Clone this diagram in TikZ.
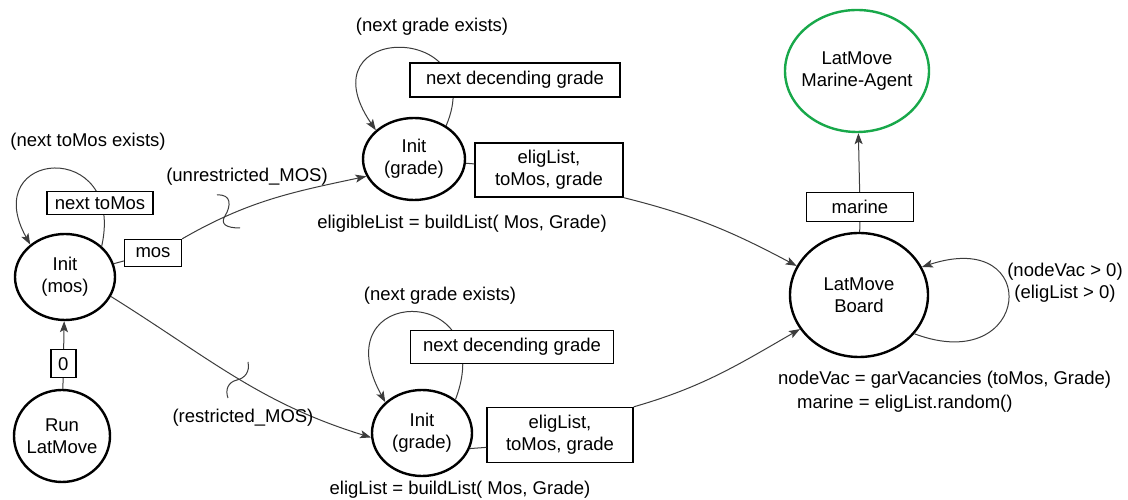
\documentclass[tikz,border=0pt]{standalone}
\usepackage{fontspec}
\setmainfont{Liberation Sans}
\usetikzlibrary{arrows.meta,shapes.geometric,calc}
\definecolor{agentgreen}{RGB}{24,168,74}
\definecolor{wire}{RGB}{60,60,60}

\begin{document}
\begin{tikzpicture}[x=1pt,y=1pt,
  every node/.style={font=\fontsize{18.5}{22}\selectfont, inner sep=0pt},
  state/.style={ellipse, draw=black, line width=2.4pt, align=center},
  tag/.style={draw=black, line width=1.3pt, fill=white, align=center},
  note/.style={align=center},
  wire/.style={draw=wire, line width=1pt},
  arr/.style={wire, -{Stealth[length=11pt,width=8pt,inset=2.5pt]}},
  squig/.style={draw=wire, line width=1pt},
]
\useasboundingbox (0,0) rectangle (1128,500);
\fill[white] (0,0) rectangle (1128,500);

% states
\node[state, minimum width=96pt, minimum height=92pt, inner xsep=-6pt] (run) at (62,64) {Run\\LatMove};
\node[state, minimum width=100pt, minimum height=86pt] (im) at (65,223) {Init\\(mos)};
\node[state, minimum width=102pt, minimum height=82pt] (gt) at (414,341) {Init\\(grade)};
\node[state, minimum width=100pt, minimum height=86pt] (gb) at (422,67) {Init\\(grade)};
\node[state, minimum width=138pt, minimum height=124pt] (board) at (859,205) {LatMove\\Board};
\node[state, draw=agentgreen, minimum width=144pt, minimum height=122pt, inner xsep=-14pt] (agent) at (857,429) {LatMove\\Marine-Agent};

% start transition
\draw[arr] (run) -- node[tag, pos=0.37, minimum width=25pt, minimum height=28pt] (b0) {0} (im);

% loop over toMos
\draw[arr] (im.40) .. controls +(24,109) and +(-53,95) .. (im.137);
\node[tag, minimum width=106pt, minimum height=23pt] (bnt) at (100,297) {next toMos};
\node[note] (lnt) at (88,358) {(next toMos exists)};

% mos to both grade initialisations
\node[tag, minimum width=57pt, minimum height=27pt] (bmos) at (153,247) {mos};
\draw[wire] (im) -- (bmos);
\draw[arr] (bmos.north east) to[out=30, in=192] (gt.200);
\draw[arr] (im.-23) to[out=-32, in=163] (gb.185);
\node[note] (lun) at (247,323) {(unrestricted\_MOS)};
\node[note] (lre) at (243,82) {(restricted\_MOS)};
\draw[squig] (217,305) .. controls (232,306) and (231,294) .. (225,284)
  .. controls (220,276) and (226,272) .. (240,272);
\draw[squig] (248,138) .. controls (250,128) and (245,122) .. (237,120)
  .. controls (228,118) and (225,110) .. (228,102);

% upper grade state
\draw[arr] (gt.46) .. controls +(45,105) and +(-74,108) .. (gt.143);
\node[tag, minimum width=210pt, minimum height=34pt] (bndt) at (515,420) {next decending grade};
\node[note] (lgt) at (432,473) {(next grade exists)};
\node[tag, minimum width=148pt, minimum height=54pt] (bet) at (549,330) {eligList,\\toMos, grade};
\draw[wire] (gt) -- (bet);
\draw[arr] (bet.south east) to[out=-14, in=152] (board.155);
\node[note] (leb) at (462,276) {eligibleList = buildList( Mos, Grade)};

% lower grade state
\draw[arr] (gb.45) .. controls +(45,118) and +(-65,118) .. (gb.140);
\node[tag, minimum width=203pt, minimum height=33pt] (bndb) at (512,153) {next decending grade};
\node[note] (lgb) at (440,204) {(next grade exists)};
\node[tag, minimum width=146pt, minimum height=55pt] (beb) at (560,65) {eligList,\\toMos, grade};
\draw[wire] (gb.-18) -- ($(beb.south west)!0.28!(beb.north west)$);
\draw[arr] (beb.north east) to[out=16, in=210] (board.210);
\node[note] (lbb) at (460,10) {eligList = buildList( Mos, Grade)};

% board
\node[tag, minimum width=107pt, minimum height=29pt] (bmar) at (860,293) {marine};
\draw[wire] (board) -- (bmar);
\draw[arr] (bmar) -- (agent);
\draw[arr] (board.-35) .. controls +(117,-44) and +(122,40) .. (board.24);
\node[note] (lvac) at (1065,217) {(nodeVac > 0)\\(eligList > 0)};
\node[align=left, anchor=west] (lcalc) at (778,108)
  {nodeVac = garVacancies (toMos, Grade)\\[2pt]\hspace*{19pt}marine = eligList.random()};
\end{tikzpicture}
\end{document}
